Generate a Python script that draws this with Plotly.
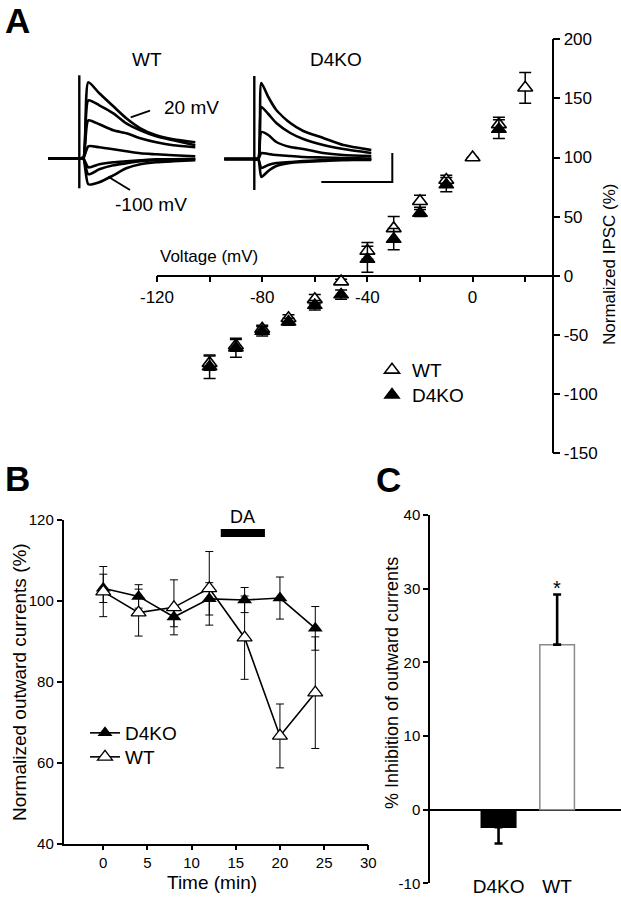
import plotly.graph_objects as go

# ---------------- data ----------------
# Panel A: I-V relation
voltage_mv = [-100, -90, -80, -70, -60, -50, -40, -30, -20, -10, 0, 10, 20]
wt_ipsc = [-74, -59, -45, -36, -20, -5, 21, 40, 63, 81, 100, 128, 159]
wt_ipsc_err = [6, 5, 3, 3, 4, 2, 7, 10, 5, 4, 0, 6, 13]
d4ko_ipsc = [-77, -61, -47, -39, -25, -16, 14, 31, 53, 77, None, 124, None]
d4ko_ipsc_err = [10, 8, 4, 3, 4, 4, 11, 9, 3, 6, 0, 8, 0]
a_xticks = [-120, -100, -80, -60, -40, -20, 0, 20]
a_xticklabels = ["-120", "", "-80", "", "-40", "", "0", ""]
a_yticks = [-150, -100, -50, 0, 50, 100, 150, 200]
a_yticklabels = ["-150", "-100", "-50", "0", "50", "100", "150", "200"]

# Panel A insets: example current traces (time in ms from the step, current in a.u.)
wt_trace_t = [4, 9, 20, 34, 47, 61, 77, 94, 116]
wt_traces = [
    [0, 76, 65, 52, 40, 30, 23, 19, 16],
    [0, 58, 53, 45, 35, 28, 22, 18, 13],
    [0, 38, 34, 28, 25, 20, 16, 13, 11],
    [0, 12, 11, 9, 7, 5, 4, 3, 2],
    [0, -9, -6, -4, -3, -2, -1, -1, -0.5],
    [0, -16, -11, -7, -5, -3, -2, -1.5, -1],
    [0, -26, -24, -17, -10, -6, -4, -3, -2],
]
wt_baseline_t = [-31, 0]
wt_artifact = [83, -30]

d4ko_trace_t = [4, 7, 14, 22, 36, 49, 69, 89, 117]
d4ko_traces = [
    [0, 76, 62, 49, 36, 28, 21, 14, 9],
    [0, 52, 45, 36, 26, 20, 14, 10, 6],
    [0, 27, 24, 17, 12, 10, 6, 4, 3],
    [0, 6, 5, 4, 3, 2, 1.5, 1, 0.5],
    [0, -18, -12, -7, -4, -3, -2, -1, -1],
    [0, -9, -6, -4, -3, -2, -1, -1, 0],
]
d4ko_baseline_t = [-30, 0]
d4ko_artifact = [83, -31]
scale_bar_t = [67, 138, 138]
scale_bar_i = [-23, -23, 6]

# Panel B: time course
time_min = [0, 4, 8, 12, 16, 20, 24]
b_d4ko = [103.1, 101.1, 96.0, 100.5, 100.2, 100.7, 93.2]
b_d4ko_err = [3.5, 2.9, 2.4, 4.0, 3.1, 5.2, 5.4]
b_wt = [102.3, 97.1, 98.4, 103.1, 90.9, 66.6, 77.3]
b_wt_err = [6.2, 5.8, 6.8, 9.1, 10.3, 7.9, 13.8]
b_xticks = [0, 5, 10, 15, 20, 25, 30]
b_yticks = [40, 60, 80, 100, 120]
da_period = [13.3, 18.3]
da_level = 116.8

# Panel C: inhibition
c_groups = ["D4KO", "WT"]
c_inhibition = [-2.4, 22.4]
c_err_up = [0, 6.8]
c_err_down = [2.2, 0]
c_yticks = [-10, 0, 10, 20, 30, 40]
c_yticklabels = ["-10", "0", "10", "20", "30", "40"]

# ---------------- layout helpers ----------------
W, H = 621, 900
FONT = "Liberation Sans, Arial, sans-serif"


def fx(p):
    return p / W


def fy(p):
    return 1 - p / H


fig = go.Figure()

# ---- Panel A main ----
fig.add_trace(go.Scatter(
    x=voltage_mv, y=wt_ipsc, mode="markers", name="WT", legend="legend",
    marker=dict(symbol="triangle-up", size=13, color="white", line=dict(color="black", width=1.6)),
    error_y=dict(type="data", array=wt_ipsc_err, color="black", thickness=1.5, width=6),
    xaxis="x", yaxis="y"))
fig.add_trace(go.Scatter(
    x=voltage_mv, y=d4ko_ipsc, mode="markers", name="D4KO", legend="legend3",
    marker=dict(symbol="triangle-up", size=13, color="black", line=dict(color="black", width=1.2)),
    error_y=dict(type="data", array=d4ko_ipsc_err, color="black", thickness=1.5, width=6),
    xaxis="x", yaxis="y"))

# ---- insets ----
for tr in wt_traces:
    fig.add_trace(go.Scatter(x=wt_baseline_t + wt_trace_t, y=[0, 0] + tr, mode="lines",
                             line=dict(color="black", width=2.6, shape="spline", smoothing=0.6),
                             showlegend=False, hoverinfo="skip", xaxis="x4", yaxis="y4"))
fig.add_trace(go.Scatter(x=[0, 0], y=wt_artifact, mode="lines", line=dict(color="black", width=2.4),
                         showlegend=False, hoverinfo="skip", xaxis="x4", yaxis="y4"))
for tr in d4ko_traces:
    fig.add_trace(go.Scatter(x=d4ko_baseline_t + d4ko_trace_t, y=[0, 0] + tr, mode="lines",
                             line=dict(color="black", width=2.6, shape="spline", smoothing=0.6),
                             showlegend=False, hoverinfo="skip", xaxis="x5", yaxis="y5"))
fig.add_trace(go.Scatter(x=[0, 0], y=d4ko_artifact, mode="lines", line=dict(color="black", width=2.4),
                         showlegend=False, hoverinfo="skip", xaxis="x5", yaxis="y5"))
fig.add_trace(go.Scatter(x=scale_bar_t, y=scale_bar_i, mode="lines", line=dict(color="black", width=2),
                         showlegend=False, hoverinfo="skip", xaxis="x5", yaxis="y5"))

# ---- Panel B ----
fig.add_trace(go.Scatter(
    x=time_min, y=b_d4ko, mode="lines+markers", name="D4KO", legend="legend2",
    line=dict(color="black", width=1.6),
    marker=dict(symbol="triangle-up", size=13, color="black"),
    error_y=dict(type="data", array=b_d4ko_err, color="black", thickness=1, width=4),
    xaxis="x2", yaxis="y2"))
fig.add_trace(go.Scatter(
    x=time_min, y=b_wt, mode="lines+markers", name="WT", legend="legend4",
    line=dict(color="black", width=1.6),
    marker=dict(symbol="triangle-up", size=13, color="white", line=dict(color="black", width=1.3)),
    error_y=dict(type="data", array=b_wt_err, color="black", thickness=1, width=4),
    xaxis="x2", yaxis="y2"))
fig.add_trace(go.Scatter(
    x=da_period, y=[da_level, da_level], mode="lines", line=dict(color="black", width=8),
    showlegend=False, hoverinfo="skip", xaxis="x2", yaxis="y2"))

# ---- Panel C ----
fig.add_trace(go.Bar(
    x=[0, 1], y=c_inhibition, width=0.59, showlegend=False,
    marker=dict(color=["black", "white"], line=dict(color=["black", "#8a8a8a"], width=1.5)),
    error_y=dict(type="data", symmetric=False, array=c_err_up, arrayminus=c_err_down,
                 color="black", thickness=2.6, width=4),
    xaxis="x3", yaxis="y3"))

axis_common = dict(showgrid=False, zeroline=False, showline=True, linecolor="black",
                   linewidth=1.5, ticks="outside", tickcolor="black", tickwidth=1.5,
                   automargin=False,
                   tickfont=dict(family=FONT, size=17, color="black"))

tick15 = dict(family=FONT, size=15, color="black")


def legend_at(x, y, size):
    return dict(x=fx(x), y=fy(y), xanchor="left", yanchor="middle", bgcolor="rgba(0,0,0,0)",
                font=dict(family=FONT, size=size, color="black"), itemwidth=30, tracegroupgap=0)


layout = dict(
    width=W, height=H, margin=dict(l=0, r=0, t=0, b=0, autoexpand=False),
    paper_bgcolor="white", plot_bgcolor="rgba(0,0,0,0)",
    font=dict(family=FONT, color="black"),
    # Panel A
    xaxis=dict(axis_common, domain=[fx(157), fx(551.5)], range=[-120, 30], anchor="free",
               position=fy(275.5), tickvals=a_xticks, ticktext=a_xticklabels, ticklen=6),
    yaxis=dict(axis_common, domain=[fy(453), fy(39.3)], range=[-150, 200], side="right",
               anchor="x", tickvals=a_yticks, ticktext=a_yticklabels, ticklen=7),
    # Panel B
    xaxis2=dict(axis_common, domain=[fx(63.5), fx(368.3)], range=[-4.5, 30], anchor="y2",
                tickvals=b_xticks, ticklen=5, tickfont=tick15),
    yaxis2=dict(axis_common, domain=[fy(843.5), fy(520)], range=[40, 120], anchor="x2",
                tickvals=b_yticks, ticklen=5, tickfont=tick15),
    # Panel C
    xaxis3=dict(domain=[fx(430), 1.0], range=[-1.17, 2.09], anchor="y3", showline=False,
                showgrid=False, zeroline=False, ticks="", tickvals=[0, 1], ticktext=c_groups,
                automargin=False, ticklabelstandoff=-10,
                tickfont=dict(family=FONT, size=19, color="black")),
    yaxis3=dict(axis_common, domain=[fy(883.3), fy(515)], range=[-10, 40], anchor="x3",
                tickvals=c_yticks, ticktext=c_yticklabels, ticklen=5, zeroline=True,
                zerolinecolor="black", zerolinewidth=1.5, tickfont=tick15),
    # insets
    xaxis4=dict(domain=[fx(40), fx(210)], range=[-39.3, 130.7], visible=False, anchor="y4"),
    yaxis4=dict(domain=[fy(200), fy(60)], range=[-41.7, 98.3], visible=False, anchor="x4"),
    xaxis5=dict(domain=[fx(210), fx(410)], range=[-44.3, 155.7], visible=False, anchor="y5"),
    yaxis5=dict(domain=[fy(200), fy(60)], range=[-41, 99], visible=False, anchor="x5"),
    legend=legend_at(372, 370, 19),
    legend3=legend_at(372, 395, 19),
    legend2=legend_at(85, 733, 19),
    legend4=legend_at(85, 757, 19),
    showlegend=True,
)
fig.update_layout(**layout)


def ann(text, x, y, size, bold=False, angle=0, xref="paper", yref="paper", yanchor="middle"):
    if xref == "paper":
        x = fx(x)
    if yref == "paper":
        y = fy(y)
    fig.add_annotation(text=f"<b>{text}</b>" if bold else text, x=x, y=y, xref=xref, yref=yref,
                       showarrow=False, textangle=angle, xanchor="center", yanchor=yanchor,
                       font=dict(family=FONT, size=size, color="black"))


ann("A", 17, 20, 35, bold=True)
ann("B", 17, 478, 35, bold=True)
ann("C", 388, 479, 35, bold=True)
ann("WT", 147, 59, 19)
ann("D4KO", 336, 59, 19)
ann("20 mV", 191, 107, 19)
ann("-100 mV", 151, 205, 19)
ann("Voltage (mV)", 209, 256, 17)
ann("Normalized IPSC (%)", 609, 264, 17, angle=-90)
ann("Normalized outward currents (%)", 19, 682, 19, angle=-90)
ann("Time (min)", 212, 882, 19)
ann("% Inhibition of outward currents", 392, 683, 18, angle=-90)
ann("DA", 242.5, 517, 18)
ann("*", 1, c_inhibition[1] + c_err_up[1] + 0.9, 20, xref="x3", yref="y3")

# pointer lines for inset labels
for (x0, y0, x1, y1) in [(130.7, 117.3, 150, 110.7), (108.3, 176.7, 130, 190)]:
    fig.add_shape(type="line", xref="paper", yref="paper", x0=fx(x0), y0=fy(y0), x1=fx(x1), y1=fy(y1),
                  line=dict(color="black", width=1.8))

fig.write_html("out.html", config={"displayModeBar": False},
               post_script="document.body.style.margin='0';document.body.style.overflow='hidden';")
